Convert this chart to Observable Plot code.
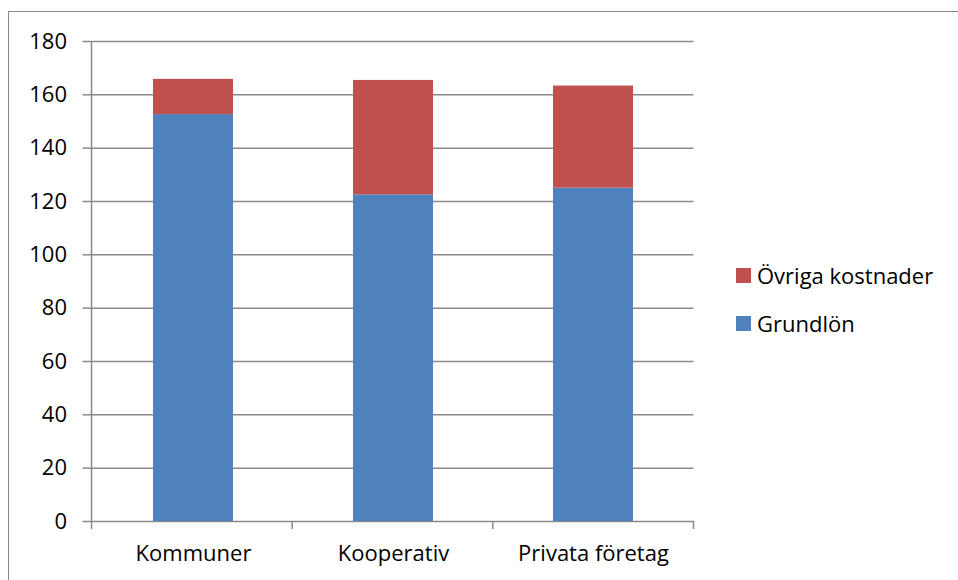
<!DOCTYPE html>
<html>
<head>
<meta charset="utf-8">
<script src="https://cdn.jsdelivr.net/npm/d3@7"></script>
<script src="https://cdn.jsdelivr.net/npm/@observablehq/plot@0.6"></script>
<style>
  html, body { margin: 0; padding: 0; background: #fff; }
  #wrap { position: relative; width: 958px; height: 580px; overflow: hidden; font-family: "Open Sans", "Noto Sans", sans-serif; }
  #frame { position: absolute; left: 8px; top: 11px; width: 960px; height: 600px; border-left: 1.5px solid #8a8a8a; border-top: 1.5px solid #8a8a8a; box-sizing: border-box; }
  #chart { position: absolute; left: 0; top: 0; }
  .legend { position: absolute; left: 736px; font-size: 22px; color: #000; display: flex; align-items: center; line-height: 24px; }
  .legend span.sw { display: inline-block; width: 15px; height: 15px; margin-right: 6px; }
</style>
</head>
<body>
<div id="wrap">
  <div id="frame"></div>
  <div id="chart"></div>
  <div id="legend"></div>
</div>
<script>
const categories = ["Kommuner", "Kooperativ", "Privata företag"];
const seriesNames = ["Grundlön", "Övriga kostnader"];
const grundlon = [152.6, 122.5, 125.0];
const ovriga = [13.2, 42.9, 38.3];
const colors = ["#4F81BD", "#C0504D"];
const yTicks = [0, 20, 40, 60, 80, 100, 120, 140, 160, 180];

const data = [];
categories.forEach((c, i) => {
  data.push({category: c, series: seriesNames[0], value: grundlon[i]});
  data.push({category: c, series: seriesNames[1], value: ovriga[i]});
});

const gray = "#8a8a8a";

function axisLines(index, scales, values, dimensions) {
  const {marginLeft, marginRight, marginTop, marginBottom, height, width} = dimensions;
  const n = categories.length;
  const w = width - marginLeft - marginRight;
  const g = d3.create("svg:g");
  const y0 = height - marginBottom;
  g.append("line").attr("x1", marginLeft).attr("x2", marginLeft).attr("y1", marginTop).attr("y2", y0)
    .attr("stroke", gray).attr("stroke-width", 1.5);
  for (let i = 0; i <= n; i++) {
    const xx = marginLeft + i * w / n;
    g.append("line").attr("x1", xx).attr("x2", xx).attr("y1", y0).attr("y2", y0 + 8)
      .attr("stroke", gray).attr("stroke-width", 1.5);
  }
  return g.node();
}

const chart = Plot.plot({
  width: 958,
  height: 580,
  marginLeft: 91.5,
  marginRight: 264.5,
  marginTop: 41,
  marginBottom: 59,
  style: {fontFamily: '"Open Sans", "Noto Sans", sans-serif', fontSize: "22px", color: "#000", background: "transparent"},
  x: {domain: categories, paddingInner: 0.6, paddingOuter: 0.3, label: null},
  y: {domain: [0, 180], label: null},
  color: {domain: seriesNames, range: colors},
  marks: [
    Plot.ruleY(yTicks, {stroke: gray, strokeWidth: 1.5}),
    Plot.barY(data, {x: "category", y: "value", fill: "series", order: seriesNames}),
    Plot.axisY({ticks: yTicks, tickSize: 9, tickPadding: 16, stroke: gray, strokeWidth: 1.5, fontSize: 22, fill: "#000"}),
    Plot.axisX({tickSize: 0, tickPadding: 24, fontSize: 22, fill: "#000"}),
    axisLines
  ]
});
document.getElementById("chart").appendChild(chart);

const legend = document.getElementById("legend");
const legendTops = [263, 311];
[1, 0].forEach((k, j) => {
  const d = document.createElement("div");
  d.className = "legend";
  d.style.top = legendTops[j] + "px";
  d.innerHTML = `<span class="sw" style="background:${colors[k]}"></span><span>${seriesNames[k]}</span>`;
  legend.appendChild(d);
});
</script>
</body>
</html>
